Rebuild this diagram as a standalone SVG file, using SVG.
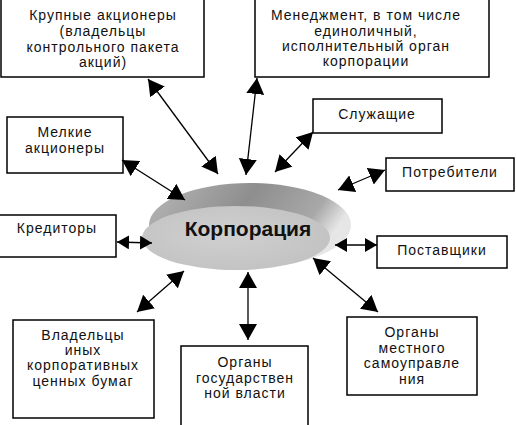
<svg xmlns="http://www.w3.org/2000/svg" width="517" height="425" viewBox="0 0 517 425">
<defs>
<marker id="ah" viewBox="0 0 16 18" refX="16" refY="9" markerUnits="userSpaceOnUse" markerWidth="16" markerHeight="18" orient="auto-start-reverse">
<path d="M0,0 L16,9 L0,18 z" fill="#000"/>
</marker>
<marker id="ahs" viewBox="0 0 12 14" refX="12" refY="7" markerUnits="userSpaceOnUse" markerWidth="12" markerHeight="14" orient="auto-start-reverse">
<path d="M0,0 L12,7 L0,14 z" fill="#000"/>
</marker>
<linearGradient id="rim" x1="0" y1="0" x2="1" y2="0.3">
<stop offset="0" stop-color="#b8b8b8"/>
<stop offset="0.5" stop-color="#8e8e8e"/>
<stop offset="0.85" stop-color="#a8a8a8"/>
<stop offset="1" stop-color="#e6e6e6"/>
</linearGradient>
<radialGradient id="face" cx="0.45" cy="0.45" r="0.6">
<stop offset="0" stop-color="#d0d0d0"/>
<stop offset="1" stop-color="#c2c2c2"/>
</radialGradient>
</defs>
<style>
.box{fill:#fff;stroke:#000;stroke-width:1.5}
.t{font-family:"Liberation Sans",Arial,sans-serif;font-size:14px;fill:#111;text-anchor:middle;letter-spacing:1px}
.c{stroke:#000;stroke-width:1.3;fill:none;marker-start:url(#ah);marker-end:url(#ah)}
.cs{stroke:#000;stroke-width:1.3;fill:none;marker-start:url(#ahs);marker-end:url(#ahs)}
</style>
<rect width="517" height="425" fill="#fff"/>

<g id="corp">
<ellipse cx="250" cy="225" rx="101" ry="42" fill="url(#rim)"/>
<ellipse cx="236" cy="238" rx="94" ry="32" fill="url(#face)"/>
<text x="248" y="236" style="font-family:'Liberation Sans',Arial,sans-serif;font-size:21px;font-weight:bold;fill:#111;text-anchor:middle">Корпорация</text>
</g>

<g id="n-large">
<rect class="box" x="1" y="-2" width="203" height="79"/>
<text class="t" x="103" y="20">Крупные акционеры</text>
<text class="t" x="103" y="36">(владельцы</text>
<text class="t" x="103" y="52">контрольного пакета</text>
<text class="t" x="103" y="67">акций)</text>
</g>

<g id="n-mgmt">
<rect class="box" x="255" y="-2" width="234" height="79"/>
<text class="t" x="366" y="20">Менеджмент, в том числе</text>
<text class="t" x="366" y="36">единоличный,</text>
<text class="t" x="366" y="51">исполнительный орган</text>
<text class="t" x="366" y="66">корпорации</text>
</g>

<g id="n-empl">
<rect class="box" x="313" y="99" width="129" height="34"/>
<text class="t" x="377" y="119">Служащие</text>
</g>

<g id="n-cons">
<rect class="box" x="386" y="158" width="128" height="33"/>
<text class="t" x="450" y="177">Потребители</text>
</g>

<g id="n-supp">
<rect class="box" x="377" y="236" width="130" height="32"/>
<text class="t" x="442" y="255">Поставщики</text>
</g>

<g id="n-small">
<rect class="box" x="7" y="117" width="116" height="56"/>
<text class="t" x="65" y="137">Мелкие</text>
<text class="t" x="65" y="153">акционеры</text>
</g>

<g id="n-cred">
<rect class="box" x="-1" y="215" width="117" height="42"/>
<text class="t" x="57" y="233">Кредиторы</text>
</g>

<g id="n-owners">
<rect class="box" x="13" y="320" width="141" height="98"/>
<text class="t" x="83" y="340">Владельцы</text>
<text class="t" x="83" y="355">иных</text>
<text class="t" x="83" y="370">корпоративных</text>
<text class="t" x="83" y="386">ценных бумаг</text>
</g>

<g id="n-state">
<rect class="box" x="181" y="346" width="127" height="81"/>
<text class="t" x="245" y="367">Органы</text>
<text class="t" x="245" y="383">государствен</text>
<text class="t" x="245" y="398">ной власти</text>
</g>

<g id="n-local">
<rect class="box" x="347" y="317" width="130" height="78"/>
<text class="t" x="412" y="337">Органы</text>
<text class="t" x="412" y="353">местного</text>
<text class="t" x="412" y="368">самоуправле</text>
<text class="t" x="412" y="384">ния</text>
</g>

<g id="connectors">
<line class="c" x1="148" y1="79" x2="218" y2="174"/>
<line class="c" x1="257" y1="78" x2="246" y2="175"/>
<line class="c" x1="313" y1="132" x2="275" y2="172"/>
<line class="c" x1="385" y1="170" x2="338" y2="190"/>
<line class="cs" x1="377" y1="245" x2="335" y2="245"/>
<line class="c" x1="313" y1="258" x2="378" y2="312"/>
<line class="c" x1="248" y1="272" x2="248" y2="340"/>
<line class="c" x1="184" y1="271" x2="137" y2="312"/>
<line class="cs" x1="117" y1="242" x2="152" y2="243"/>
<line class="c" x1="122" y1="160" x2="185" y2="200"/>
</g>
</svg>
